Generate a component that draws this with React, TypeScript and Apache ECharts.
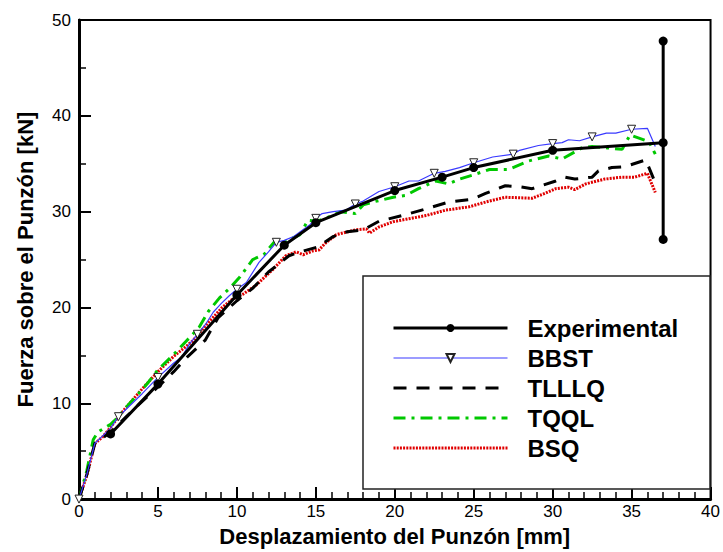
import React, { useEffect, useRef } from "react";
import * as echarts from "echarts";

// ---- Data ----
const xTicks = [0, 5, 10, 15, 20, 25, 30, 35, 40];
const yTicks = [0, 10, 20, 30, 40, 50];

const experimental: [number, number][] = [
  [2, 6.8], [5, 12.0], [10, 21.3], [13, 26.5], [15, 28.85], [20, 32.2],
  [23, 33.6], [25, 34.6], [30, 36.4], [37, 37.2],
];
const errorBar: [number, number][] = [[37, 27.1], [37, 47.8]];

const bbst: [number, number][] = [
  [0, 0], [0.5, 2.6], [1, 5.8], [1.5, 6.6], [2, 7.4], [2.5, 8.6], [3, 9.4], [4, 11.0],
  [5, 12.7], [6, 14.2], [6.5, 14.8], [7, 16.2], [7.5, 17.2], [8, 18.2], [8.5, 19.5],
  [9, 20.4], [9.5, 21.2], [10, 21.9], [10.6, 22.6], [11.4, 24.7], [12, 25.8], [12.5, 26.8],
  [13, 27.0], [13.6, 27.4], [14.6, 28.6], [15, 29.3], [15.4, 29.8], [16.1, 30.0], [16.9, 30.15],
  [17.5, 30.8], [18, 31.1], [19, 32.1], [20, 32.6], [20.9, 33.2], [21.5, 33.2], [22.5, 34.0],
  [23.2, 34.2], [24.1, 34.6], [25, 35.1], [26.2, 35.7], [27.5, 36.0], [27.9, 36.4],
  [29.1, 36.9], [30, 37.1], [30.6, 37.2], [31, 37.5], [31.7, 37.4], [32.5, 37.8],
  [33.4, 38.2], [34, 38.2], [35, 38.6], [36, 38.7], [36.5, 36.8],
];
const bbstMarkerX = [0, 2.5, 5, 7.5, 10, 12.5, 15, 17.5, 20, 22.5, 25, 27.5, 30, 32.5, 35];

const tlllq: [number, number][] = [
  [0, 0], [0.5, 2.6], [1, 5.8], [2, 7.0], [3, 8.6], [4, 10.2], [5, 11.7], [6, 13.3],
  [6.9, 14.9], [8, 16.6], [8.8, 18.9], [10, 20.7], [11, 22.0], [12, 23.7], [13.3, 25.4],
  [14, 25.8], [15.1, 26.3], [16.1, 27.4], [17, 27.9], [18, 28.1], [19, 29.0], [20.5, 29.6],
  [22, 30.3], [23.4, 31.0], [24.9, 31.3], [25.75, 31.9], [27, 32.7], [27.9, 32.6],
  [28.7, 32.4], [30.2, 33.2], [30.8, 33.6], [31.4, 33.4], [32.5, 33.6], [32.9, 34.25],
  [33.75, 34.6], [34.6, 34.7], [35.9, 35.4], [36.5, 33.0],
];

const tqql: [number, number][] = [
  [0, 0], [0.5, 3.0], [0.9, 6.2], [1.2, 7.0], [2, 7.8], [2.5, 8.6], [3, 9.6], [4.3, 12.0],
  [5, 13.5], [6, 15.1], [6.8, 16.5], [7.6, 17.9], [8.2, 19.6], [8.9, 21.0], [9.6, 22.1],
  [10.2, 23.2], [11, 25.0], [11.7, 25.5], [12.4, 26.9], [13, 26.8], [14, 27.6], [14.5, 29.1],
  [15.1, 29.0], [15.9, 29.5], [16.6, 30.0], [17.5, 29.8], [18, 30.7], [18.6, 31.0],
  [19.9, 31.5], [20.7, 31.7], [21.5, 32.4], [22.6, 33.2], [23.4, 32.9], [24.1, 33.4],
  [24.9, 33.8], [26, 34.4], [27.2, 34.4], [28.5, 35.3], [29.75, 35.8], [30.6, 35.5],
  [31.9, 36.7], [32.5, 36.8], [33.5, 36.65], [34.4, 36.5], [34.9, 38.0], [36.1, 37.3],
  [36.5, 36.0],
];

const bsq: [number, number][] = [
  [0, 0], [0.5, 2.5], [1, 5.8], [1.5, 6.5], [2, 7.5], [2.5, 8.6], [3, 9.6], [4, 11.5],
  [5, 13.3], [6, 14.9], [7.2, 16.5], [8.07, 18.2], [9.1, 20.05], [9.75, 20.9], [10.4, 21.4],
  [11.2, 22.3], [12.3, 24.0], [13.1, 25.4], [13.75, 25.8], [14.2, 25.5], [14.8, 25.9],
  [15.2, 26.0], [15.6, 26.7], [16.3, 27.6], [17.5, 28.1], [18.2, 28.2], [18.4, 27.75],
  [19, 28.4], [19.9, 28.95], [20.7, 29.2], [22, 29.6], [23.2, 30.15], [24.7, 30.5],
  [25.75, 31.0], [27, 31.5], [28.7, 31.4], [29.5, 31.9], [30.2, 32.4], [31, 32.55],
  [31.4, 32.3], [32.1, 32.9], [33.3, 33.4], [34.4, 33.6], [35.2, 33.6], [36, 34.0],
  [36.5, 32.0],
];

const seriesNames = ["Experimental", "BBST", "TLLLQ", "TQQL", "BSQ"];

const FONT = "Liberation Sans, Arial, sans-serif";

export default function App() {
  const ref = useRef<HTMLDivElement>(null);
  useEffect(() => {
    if (!ref.current) return;
    const chart = echarts.init(ref.current, undefined, { renderer: "svg" });
    const bbstData = bbst.map((p) => ({
      value: p,
      symbol: bbstMarkerX.includes(p[0]) ? "triangle" : "none",
    }));
    const option: any = {
      animation: false,
      backgroundColor: "#fff",
      grid: {
        left: 79, right: 11, top: 20, bottom: 44,
        show: true, borderColor: "#000", borderWidth: 2,
      },
      xAxis: {
        type: "value", min: xTicks[0], max: xTicks[xTicks.length - 1], interval: 5,
        name: "Desplazamiento del Punzón [mm]", nameLocation: "middle", nameGap: 22,
        nameTextStyle: { fontSize: 22, fontWeight: "bold", color: "#000", fontFamily: FONT },
        axisLine: { lineStyle: { color: "#000", width: 3 } },
        axisTick: { inside: true, length: 12, lineStyle: { color: "#000", width: 2 } },
        minorTick: { show: true, splitNumber: 5, length: 7, lineStyle: { color: "#000", width: 1.5 } },
        splitLine: { show: false },
        axisLabel: { fontSize: 17, color: "#000", margin: 4, fontFamily: FONT },
      },
      yAxis: {
        type: "value", min: yTicks[0], max: yTicks[yTicks.length - 1], interval: 10,
        name: "Fuerza sobre el Punzón [kN]", nameLocation: "middle", nameGap: 43, nameRotate: 90,
        nameTextStyle: { fontSize: 22, fontWeight: "bold", color: "#000", fontFamily: FONT },
        axisLine: { lineStyle: { color: "#000", width: 3 } },
        axisTick: { inside: true, length: 12, lineStyle: { color: "#000", width: 2 } },
        minorTick: { show: true, splitNumber: 2, length: 7, lineStyle: { color: "#000", width: 1.5 } },
        splitLine: { show: false },
        axisLabel: { fontSize: 17, color: "#000", margin: 8, fontFamily: FONT },
      },
      legend: {
        orient: "vertical", left: 392, top: 316, padding: 0,
        itemWidth: 114, itemHeight: 10, itemGap: 6, selectedMode: false,
        textStyle: { fontSize: 24, fontWeight: "bold", color: "#000", fontFamily: FONT, padding: [0, 0, 0, 15] },
        data: [
          { name: seriesNames[0], lineStyle: { width: 3 } },
          { name: seriesNames[1], lineStyle: { width: 1.2 } },
          { name: seriesNames[2], lineStyle: { width: 3 }, itemStyle: { opacity: 0 } },
          { name: seriesNames[3], lineStyle: { width: 3 }, itemStyle: { opacity: 0 } },
          { name: seriesNames[4], lineStyle: { width: 3 }, itemStyle: { opacity: 0 } },
        ],
      },
      graphic: [
        {
          type: "rect", z: 1,
          shape: { x: 363, y: 276, width: 347, height: 213 },
          style: { fill: "#fff", stroke: "#222", lineWidth: 1.5 },
        },
      ],
      series: [
        {
          name: seriesNames[4], type: "line", data: bsq, symbol: "none", z: 3,
          color: "#e00000",
          lineStyle: { color: "#e00000", width: 3, type: [2, 1.2] },
        },
        {
          name: seriesNames[3], type: "line", data: tqql, symbol: "none", z: 3,
          color: "#00c800",
          lineStyle: { color: "#00c800", width: 3, type: [12, 6, 3, 6] },
        },
        {
          name: seriesNames[2], type: "line", data: tlllq, symbol: "none", z: 3,
          color: "#000",
          lineStyle: { color: "#000", width: 3, type: [13, 10] },
        },
        {
          name: seriesNames[1], type: "line", data: bbstData, symbol: "triangle",
          symbolRotate: 180, symbolSize: 8, z: 4, color: "#3a3aff",
          lineStyle: { color: "#3a3aff", width: 1.2 },
          itemStyle: { color: "#fff", borderColor: "#222", borderWidth: 1 },
        },
        {
          name: seriesNames[0], type: "line", data: experimental, symbol: "circle",
          symbolSize: 9, z: 5, color: "#000",
          lineStyle: { color: "#000", width: 3 },
          itemStyle: { color: "#000" },
        },
        {
          name: "errorBar", type: "line", data: errorBar, symbol: "circle",
          symbolSize: 9, z: 5, color: "#000",
          lineStyle: { color: "#000", width: 3 },
          itemStyle: { color: "#000" },
        },
      ],
    };
    chart.setOption(option);
    return () => chart.dispose();
  }, []);
  return (
    <div
      ref={ref}
      style={{ position: "absolute", left: 0, top: 0, width: 723, height: 552 }}
    />
  );
}
